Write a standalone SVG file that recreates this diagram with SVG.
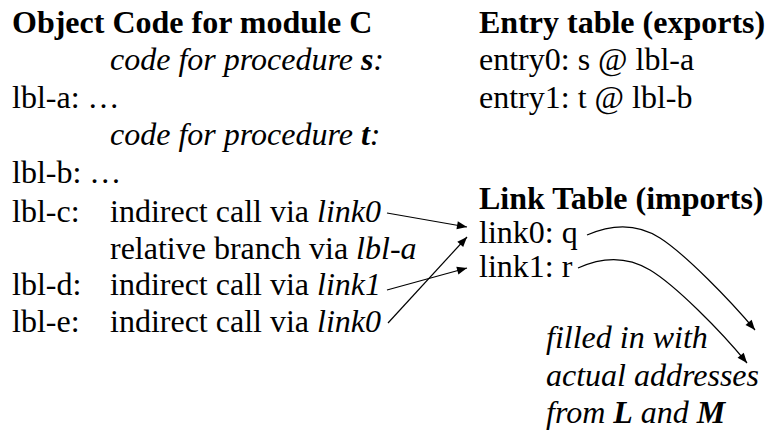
<svg xmlns="http://www.w3.org/2000/svg" width="766" height="437" viewBox="0 0 766 437">
<defs>
<marker id="ah" viewBox="0 0 10 10" refX="10" refY="5" markerWidth="11" markerHeight="10" markerUnits="userSpaceOnUse" orient="auto">
<path d="M0,1 L10,5 L0,9 z" fill="#000"/>
</marker>
<style>
text{font-family:"Liberation Serif","Times New Roman",serif;font-size:32px;fill:#000}
.b{font-weight:bold}
.i{font-style:italic}
.conn{fill:none;stroke:#000;stroke-width:1.2}
</style>
</defs>
<rect width="766" height="437" fill="#fff"/>
<g id="module">
<text class="b" x="12" y="33">Object Code for module C</text>
<text class="i" x="110" y="70">code for procedure <tspan class="b">s</tspan>:</text>
<text x="12" y="108">lbl-a: …</text>
<text class="i" x="110" y="145">code for procedure <tspan class="b">t</tspan>:</text>
<text x="12" y="183">lbl-b: …</text>
<text x="12" y="222">lbl-c:</text>
<text x="110" y="222">indirect call via <tspan class="i">link0</tspan></text>
<text x="110" y="259">relative branch via <tspan class="i">lbl-a</tspan></text>
<text x="12" y="295">lbl-d:</text>
<text x="110" y="295">indirect call via <tspan class="i">link1</tspan></text>
<text x="12" y="332">lbl-e:</text>
<text x="110" y="332">indirect call via <tspan class="i">link0</tspan></text>
</g>
<g id="entry-table">
<text class="b" x="479" y="33">Entry table (exports)</text>
<text x="479" y="70">entry0: s @ lbl-a</text>
<text x="479" y="108">entry1: t @ lbl-b</text>
</g>
<g id="link-table">
<text class="b" x="479" y="209">Link Table (imports)</text>
<text x="479" y="243">link0: q</text>
<text x="479" y="277">link1: r</text>
</g>
<g id="note">
<text class="i" x="546" y="348">filled in with</text>
<text class="i" x="546" y="386">actual addresses</text>
<text class="i" x="546" y="423">from <tspan class="b">L</tspan> and <tspan class="b">M</tspan></text>
</g>
<g id="connectors">
<path class="conn" d="M387,213 L467,227" marker-end="url(#ah)"/>
<path class="conn" d="M388,323 L467,237" marker-end="url(#ah)"/>
<path class="conn" d="M387,290 L467,268" marker-end="url(#ah)"/>
<path class="conn" d="M587,235 C610,225 635,222 660,238 S730,300 755,330" marker-end="url(#ah)"/>
<path class="conn" d="M578,268 C600,258 625,255 650,270 S720,330 747,363" marker-end="url(#ah)"/>
</g>
</svg>
